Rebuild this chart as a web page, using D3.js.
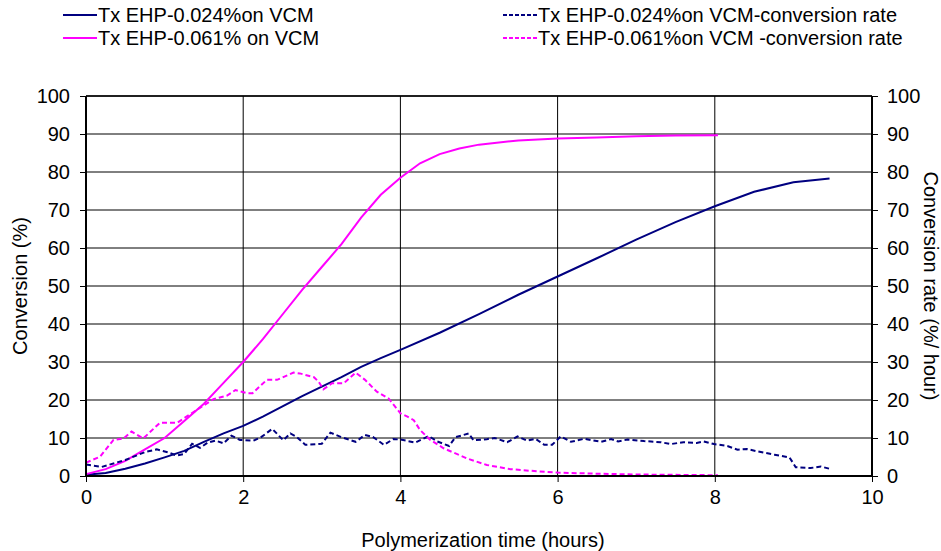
<!DOCTYPE html>
<html>
<head>
  <meta charset="utf-8">
  <title>Conversion vs polymerization time</title>
  <script src="https://d3js.org/d3.v7.min.js"></script>
  <style>
    html, body { margin: 0; padding: 0; background: #fff; }
    svg { display: block; }
    text { font-family: "Liberation Sans", Arial, sans-serif; fill: #000; }
    .tick text { font-size: 20px; }
  </style>
</head>
<body>
  <svg width="941" height="551"></svg>
  <script>
    // series: [hours, value]
    const conv024 = [
      [0, 0.3], [0.25, 0.8], [0.5, 1.9], [0.75, 3.3], [1.0, 4.9], [1.25, 6.6], [1.5, 9.0],
      [1.75, 11.2], [2.0, 13.2], [2.25, 15.6], [2.5, 18.3], [2.75, 21], [3.0, 23.5],
      [3.25, 26], [3.5, 28.7], [3.75, 31], [4.0, 33.2], [4.5, 37.7], [5.0, 42.6],
      [5.5, 47.7], [6.0, 52.5], [6.5, 57.3], [7.0, 62.2], [7.5, 66.8], [8.0, 71],
      [8.5, 74.8], [9.0, 77.3], [9.46, 78.3]
    ];
    const conv061 = [
      [0, 0.5], [0.25, 1.8], [0.5, 4], [0.75, 7], [1.0, 10], [1.25, 14.5], [1.5, 19],
      [1.75, 24.5], [2.0, 30], [2.25, 36], [2.5, 42.5], [2.75, 49], [3.0, 55],
      [3.25, 61], [3.5, 68], [3.75, 74], [4.0, 78.5], [4.25, 82.3], [4.5, 84.7],
      [4.75, 86.2], [5.0, 87.2], [5.5, 88.3], [6.0, 88.8], [6.5, 89.1], [7.0, 89.4],
      [7.5, 89.6], [8.04, 89.7]
    ];
    const rate024 = [
      [0, 3.0], [0.2, 2.4], [0.5, 4.2], [0.75, 6.3], [0.9, 7.0], [1.05, 6.2], [1.15, 5.4],
      [1.25, 5.8], [1.35, 8.5], [1.45, 7.4], [1.55, 8.8], [1.65, 9.3], [1.75, 8.6],
      [1.85, 10.6], [1.96, 9.5], [2.13, 9.3], [2.22, 10.1], [2.37, 12.4], [2.51, 9.4],
      [2.6, 11.2], [2.68, 10.3], [2.79, 8.2], [3.0, 8.5], [3.11, 11.4], [3.24, 10.3],
      [3.43, 9.0], [3.55, 10.8], [3.65, 10.3], [3.79, 8.2], [3.91, 9.7], [4.0, 9.6],
      [4.19, 8.8], [4.36, 10.5], [4.47, 9.1], [4.62, 7.9], [4.70, 10.2], [4.87, 11.2],
      [4.93, 9.4], [5.10, 9.7], [5.2, 10.0], [5.36, 8.9], [5.49, 10.4], [5.61, 9.3],
      [5.72, 9.8], [5.83, 8.2], [5.93, 8.2], [6.04, 10.4], [6.17, 9.0], [6.34, 9.8],
      [6.55, 9.0], [6.68, 9.7], [6.77, 9.1], [6.89, 9.6], [7.1, 9.2], [7.31, 8.9],
      [7.44, 8.4], [7.6, 8.9], [7.77, 8.7], [7.86, 9.1], [7.99, 8.4], [8.16, 7.9],
      [8.29, 6.9], [8.41, 7.1], [8.54, 6.5], [8.76, 5.6], [8.95, 4.9], [9.03, 2.3],
      [9.22, 2.1], [9.35, 2.5], [9.46, 1.9]
    ];
    const rate061 = [
      [0, 3.5], [0.18, 5.1], [0.35, 9.5], [0.48, 9.9], [0.58, 11.7], [0.73, 9.9],
      [0.94, 14.0], [1.16, 14.0], [1.41, 17.4], [1.62, 20.2], [1.79, 21.1], [1.9, 22.6],
      [2.05, 21.8], [2.12, 21.8], [2.3, 25.3], [2.43, 25.3], [2.64, 27.2], [2.72, 27.0],
      [2.9, 26.0], [2.96, 24.8], [3.02, 22.8], [3.13, 24.4], [3.28, 24.4], [3.43, 27.2],
      [3.55, 25.3], [3.7, 22.2], [3.85, 20.4], [4.0, 16.5], [4.09, 15.6], [4.17, 14.7],
      [4.25, 12.1], [4.38, 9.5], [4.55, 7.3], [4.85, 4.6], [5.1, 2.9], [5.4, 1.8],
      [5.7, 1.3], [6.0, 0.9], [6.5, 0.6], [7.0, 0.4], [7.5, 0.3], [8.04, 0.2]
    ];

    const xTicks = [0, 2, 4, 6, 8, 10];
    const yTicks = [0, 10, 20, 30, 40, 50, 60, 70, 80, 90, 100];

    const series = [
      { name: "Tx EHP-0.024%on VCM", data: conv024, color: "#000080", dash: null, lx: 63, ly: 15 },
      { name: "Tx EHP-0.061% on VCM", data: conv061, color: "#ff00ff", dash: null, lx: 63, ly: 38 },
      { name: "Tx EHP-0.024%on VCM-conversion rate", data: rate024, color: "#000080", dash: "5,3", lx: 503, ly: 15 },
      { name: "Tx EHP-0.061%on VCM -conversion rate", data: rate061, color: "#ff00ff", dash: "5,3", lx: 503, ly: 38 }
    ];

    const svg = d3.select("svg");
    const mLeft = 86, mRight = 872, mTop = 96, mBottom = 476;

    const x = d3.scaleLinear().domain([0, 10]).range([mLeft, mRight]);
    const y = d3.scaleLinear().domain([0, 100]).range([mBottom, mTop]);
    const y2 = d3.scaleLinear().domain([0, 100]).range([mBottom, mTop]);

    // grid
    const grid = svg.append("g");
    grid.selectAll(".hg").data(yTicks.slice(1)).enter().append("line")
      .attr("x1", mLeft).attr("x2", mRight)
      .attr("y1", d => y(d)).attr("y2", d => y(d))
      .attr("stroke", "#000").attr("stroke-width", 1);
    grid.selectAll(".vg").data(xTicks.slice(1, -1)).enter().append("line")
      .attr("y1", mTop).attr("y2", mBottom)
      .attr("x1", d => x(d)).attr("x2", d => x(d))
      .attr("stroke", "#000").attr("stroke-width", 1);

    const line = d3.line().x(d => x(d[0])).y(d => y(d[1]));

    series.forEach(s => {
      svg.append("path")
        .datum(s.data)
        .attr("d", line)
        .attr("fill", "none")
        .attr("stroke", s.color)
        .attr("stroke-width", 2)
        .attr("stroke-dasharray", s.dash);
    });

    // axes
    const xAxis = svg.append("g").attr("transform", `translate(0,${mBottom})`)
      .call(d3.axisBottom(x).tickValues(xTicks).tickSize(6).tickPadding(8));
    const yAxis = svg.append("g").attr("transform", `translate(${mLeft},0)`)
      .call(d3.axisLeft(y).tickValues(yTicks).tickSize(6).tickPadding(10));
    const yAxis2 = svg.append("g").attr("transform", `translate(${mRight},0)`)
      .call(d3.axisRight(y2).tickValues(yTicks).tickSize(6).tickPadding(9));
    [xAxis, yAxis, yAxis2].forEach(a => {
      a.select(".domain").remove();
      a.selectAll(".tick line").attr("stroke", "#000");
      a.selectAll(".tick text").style("font-family", "'Liberation Sans', Arial, sans-serif");
    });

    // frame
    svg.append("line").attr("x1", mLeft).attr("x2", mRight).attr("y1", mTop).attr("y2", mTop)
      .attr("stroke", "#000").attr("stroke-width", 1.5);
    svg.append("line").attr("x1", mLeft).attr("x2", mRight).attr("y1", mBottom).attr("y2", mBottom)
      .attr("stroke", "#000").attr("stroke-width", 2);
    svg.append("line").attr("x1", mLeft).attr("x2", mLeft).attr("y1", mTop).attr("y2", mBottom)
      .attr("stroke", "#000").attr("stroke-width", 2);
    svg.append("line").attr("x1", mRight).attr("x2", mRight).attr("y1", mTop).attr("y2", mBottom)
      .attr("stroke", "#000").attr("stroke-width", 2);

    // titles
    svg.append("text").attr("x", (mLeft + mRight) / 2 + 4).attr("y", 547)
      .attr("text-anchor", "middle").style("font-size", "20px")
      .text("Polymerization time (hours)");
    svg.append("text").attr("transform", `translate(27,${(mTop + mBottom) / 2}) rotate(-90)`)
      .attr("text-anchor", "middle").style("font-size", "20px")
      .text("Conversion (%)");
    svg.append("text").attr("transform", `translate(924,${(mTop + mBottom) / 2}) rotate(90)`)
      .attr("text-anchor", "middle").style("font-size", "20px")
      .text("Conversion rate (%/ hour)");

    // legend
    const legend = svg.append("g");
    series.forEach(s => {
      legend.append("line")
        .attr("x1", s.lx).attr("x2", s.lx + 34)
        .attr("y1", s.ly).attr("y2", s.ly)
        .attr("stroke", s.color).attr("stroke-width", 2)
        .attr("stroke-dasharray", s.dash ? "4,2" : null);
      legend.append("text")
        .attr("x", s.lx + 35).attr("y", s.ly + 7)
        .style("font-size", "20px")
        .text(s.name);
    });
  </script>
</body>
</html>
